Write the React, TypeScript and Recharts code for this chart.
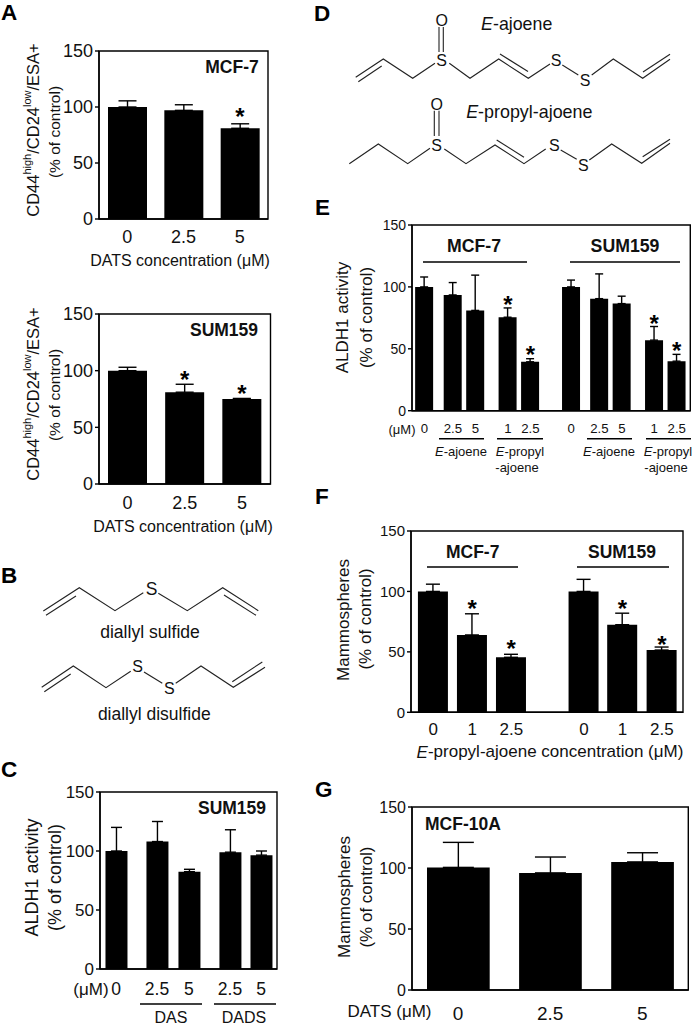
import { ComposedChart, Bar, Line, XAxis, YAxis, ErrorBar, ReferenceArea } from 'recharts';

const FONT = '"Liberation Sans", Arial, sans-serif';
const Y_TICKS = [0, 50, 100, 150];

// panel A, MCF-7
const a1Labels = ['0', '2.5', '5'];
const a1Values = [100, 97, 81];
const a1Errors = [5.5, 5, 4];
const a1Stars = [null, null, 96];

// panel A, SUM159
const a2Labels = ['0', '2.5', '5'];
const a2Values = [100, 81, 75];
const a2Errors = [3, 7, 0.5];
const a2Stars = [null, 97.5, 84.5];

// panel C
const cLabels = ['0', '2.5', '5', '2.5', '5'];
const cValues = [100, 108, 82.5, 99, 96.5];
const cErrors = [20, 17, 2, 19, 3.5];
const cSlots = [0, 1.28, 2.28, 3.56, 4.53];

// panel E
const eLabels = ['0', '2.5', '5', '1', '2.5', '0', '2.5', '5', '1', '2.5'];
const eValues = [100, 93.5, 81, 75.5, 39.5, 100, 90.5, 86.5, 57, 40];
const eErrors = [8, 10, 28.5, 7.5, 2.5, 5.5, 20, 6, 11, 5.5];
const eStars = [null, null, null, 90, 50, null, null, null, 75, 53];
const eSlots = [0, 1.27, 2.27, 3.71, 4.71, 6.53, 7.78, 8.78, 10.22, 11.22];

// panel F
const fLabels = ['0', '1', '2.5', '0', '1', '2.5'];
const fValues = [100, 64, 45.5, 100, 72.5, 51.5];
const fErrors = [6, 17.5, 2.5, 10, 9.5, 2.5];
const fStars = [null, 90.5, 57, null, 90.5, 61];
const fSlots = [0, 1, 2, 3.86, 4.85, 5.86];

// panel G
const gLabels = ['0', '2.5', '5'];
const gValues = [100.5, 96, 105];
const gErrors = [20.5, 13, 7.5];

// chemical structures, drawn as plain lines: [x1 y1 x2 y2 ...]
const BONDS: number[][] = [
    // diallyl sulfide
    [43.3, 611, 79.3, 587.7, 115, 610.7, 143.3, 592.7],
    [158.3, 593.3, 187.3, 610.7, 222.7, 587.7, 258.3, 610.7],
    [46, 615.3, 76, 596],
    [224, 595, 256, 615.3],
    // diallyl disulfide
    [41.7, 687.3, 73.3, 666, 106, 687.7, 130.7, 671.3],
    [144, 672, 162.3, 683.3],
    [175.7, 683.3, 201, 666, 233.3, 687.3, 265, 667.3],
    [232.3, 681.7, 262.3, 662],
    [44.3, 691.7, 70.7, 674],
    // E-ajoene
    [355.7, 77.3, 383.3, 59, 412.7, 78.3, 435, 63.3],
    [439, 27, 439, 52],
    [443.3, 27, 443.3, 52],
    [449.3, 63.3, 470, 78.3, 498.7, 59, 528.3, 78.3, 550, 64],
    [562.3, 65, 578.3, 75],
    [591.7, 75, 613.3, 59, 642.7, 78.3, 670, 59.3],
    [358.3, 81.7, 381.7, 66],
    [500, 54, 528, 71.5],
    [643, 72, 670, 54.3],
    // E-propyl-ajoene
    [349.3, 163.7, 378.3, 144, 407.7, 163.7, 430, 148.3],
    [434.3, 110.7, 434.3, 136],
    [439, 110.7, 439, 136],
    [444.3, 149, 466, 163.7, 495, 145, 524, 163.7, 545.7, 149],
    [560.7, 150, 576.7, 159.3],
    [589.3, 160, 611.7, 144, 641.7, 163.3, 670, 143.3],
    [496.7, 140, 524, 157.3],
    [642.7, 156.7, 670, 139.3],
];

// rules under / over the bar groups: [x1, x2, y]
const RULES: number[][] = [
    [140, 202, 1004], [214, 276, 1004],
    [423, 527, 262], [570, 680, 262],
    [439, 484, 438.7], [497, 543, 438.7], [587, 632, 438.7], [646, 691, 438.7],
    [427, 518, 567], [577, 669, 567],
];

type PanelProps = {
    box: number[]; // plot rectangle: left, right, top, bottom
    labels: string[];
    values: number[];
    errors: number[];
    stars?: (number | null)[];
    slots?: number[];
    domain?: number[];
    barSize: number;
    capWidth: number;
    yFont: number;
    xFont: number;
    xGap: number;
};

const AXIS_W = 50;
const AXIS_H = 36;
const TOP_PAD = 12;

function Panel({ box, labels, values, errors, stars, slots, domain, barSize, capWidth, yFont, xFont, xGap }: PanelProps) {
    const [left, right, top, bottom] = box;
    const xs = slots ?? labels.map((_, i) => i);
    const dom = domain ?? [-0.5, labels.length - 0.5];
    const data = labels.map((label, i) => ({
        slot: xs[i],
        label,
        value: values[i],
        err: [0, errors[i]],
        star: stars ? stars[i] : null,
    }));
    const width = right - left + AXIS_W + 3;
    const height = bottom - top + TOP_PAD + AXIS_H;
    return (
        <div style={{ position: 'absolute', left: left - AXIS_W, top: top - TOP_PAD }}>
            <ComposedChart width={width} height={height} data={data} margin={{ top: TOP_PAD, right: 3, bottom: 0, left: 0 }}>
                <XAxis
                    dataKey="slot"
                    type="number"
                    domain={dom}
                    ticks={xs}
                    interval={0}
                    allowDataOverflow
                    tickFormatter={(v: number) => labels[xs.indexOf(v)]}
                    height={AXIS_H}
                    tickLine={false}
                    tickSize={0}
                    tickMargin={xGap}
                    axisLine={{ stroke: '#000', strokeWidth: 1.4 }}
                    tick={{ fill: '#111', fontSize: xFont, fontFamily: FONT }}
                />
                <YAxis
                    width={AXIS_W}
                    domain={[0, 150]}
                    ticks={Y_TICKS}
                    interval={0}
                    tickSize={4}
                    tickMargin={2}
                    axisLine={{ stroke: '#000', strokeWidth: 1.4 }}
                    tickLine={{ stroke: '#000', strokeWidth: 1.4 }}
                    tick={{ fill: '#111', fontSize: yFont, fontFamily: FONT }}
                />
                <ReferenceArea x1={dom[0]} x2={dom[1]} y1={0} y2={150} fill="none" stroke="#000" strokeWidth={1.4} ifOverflow="visible" />
                <Bar dataKey="value" fill="#000" barSize={barSize} isAnimationActive={false}>
                    {/* the library takes the half length of the cap here */}
                    <ErrorBar dataKey="err" direction="y" width={capWidth / 2} stroke="#000" strokeWidth={1.4} isAnimationActive={false} />
                </Bar>
                {stars && (
                    <Line
                        dataKey="star"
                        stroke="none"
                        dot={false}
                        isAnimationActive={false}
                        label={(p: any) =>
                            p.value == null ? (
                                <g key={p.index} />
                            ) : (
                                <text key={p.index} x={p.x} y={p.y + 14} textAnchor="middle" fontFamily={FONT} fontWeight="bold" fontSize={24} fill="#000">
                                    *
                                </text>
                            )
                        }
                    />
                )}
            </ComposedChart>
        </div>
    );
}

function T({ x, y, size = 16, bold, anchor = 'middle', children }: any) {
    return (
        <text x={x} y={y} fontSize={size} fontWeight={bold ? 'bold' : 'normal'} textAnchor={anchor} dominantBaseline="central" fill="#111" fontFamily={FONT}>
            {children}
        </text>
    );
}

function VT({ x, y, size = 17, children }: any) {
    return (
        <text x={x} y={y} fontSize={size} textAnchor="middle" dominantBaseline="central" fill="#111" fontFamily={FONT} transform={`rotate(-90 ${x} ${y})`}>
            {children}
        </text>
    );
}

function Letter({ x, y, children }: any) {
    return (
        <text x={x} y={y} fontSize={22.5} fontWeight="bold" fill="#000" fontFamily={FONT}>
            {children}
        </text>
    );
}

const CdTitle = ({ x, y }: any) => (
    <VT x={x} y={y} size={16.5}>
        CD44<tspan dy={-6} fontSize={11}>high</tspan>
        <tspan dy={6}>/CD24</tspan>
        <tspan dy={-6} fontSize={11}>low</tspan>
        <tspan dy={6}>/ESA+</tspan>
    </VT>
);

const It = ({ children }: any) => <tspan fontStyle="italic">{children}</tspan>;

export default function App() {
    return (
        <div style={{ position: 'absolute', left: 0, top: 0, width: 693, height: 1027, overflow: 'hidden', background: '#fff' }}>
            <Panel box={[99, 268, 51, 219]} labels={a1Labels} values={a1Values} errors={a1Errors} stars={a1Stars} barSize={39} capWidth={18} yFont={18} xFont={18} xGap={11} />
            <Panel box={[99, 270.5, 314, 484]} labels={a2Labels} values={a2Values} errors={a2Errors} stars={a2Stars} barSize={39} capWidth={18} yFont={18} xFont={18} xGap={12} />
            <Panel box={[100, 277, 792, 969]} labels={cLabels} values={cValues} errors={cErrors} slots={cSlots} domain={[-0.5, 5.03]} barSize={22} capWidth={11} yFont={17} xFont={17.5} xGap={14} />
            <Panel box={[411.7, 690, 225, 410.7]} labels={eLabels} values={eValues} errors={eErrors} stars={eStars} slots={eSlots} domain={[-0.55, 11.82]} barSize={18} capWidth={8} yFont={14} xFont={13.2} xGap={13} />
            <Panel box={[410.7, 682.7, 530.7, 712]} labels={fLabels} values={fValues} errors={fErrors} stars={fStars} slots={fSlots} domain={[-0.57, 6.4]} barSize={30} capWidth={14} yFont={15} xFont={17} xGap={11} />
            <Panel box={[411.7, 688, 807.3, 990.3]} labels={gLabels} values={gValues} errors={gErrors} barSize={62.7} capWidth={31} yFont={16} xFont={19} xGap={17} />

            <svg width={693} height={1027} style={{ position: 'absolute', left: 0, top: 0, pointerEvents: 'none' }}>
                <Letter x={1} y={20}>A</Letter>
                <Letter x={1} y={582.7}>B</Letter>
                <Letter x={1} y={777}>C</Letter>
                <Letter x={314} y={21}>D</Letter>
                <Letter x={315} y={215}>E</Letter>
                <Letter x={315} y={504}>F</Letter>
                <Letter x={315} y={797}>G</Letter>

                {/* panel A */}
                <CdTitle x={33} y={130} />
                <VT x={54} y={132} size={15.5}>(% of control)</VT>
                <T x={232} y={67} size={17.5} bold>MCF-7</T>
                <T x={180} y={260.7} size={16}>DATS concentration (μM)</T>
                <CdTitle x={33} y={394} />
                <VT x={54} y={395} size={15.5}>(% of control)</VT>
                <T x={224} y={330} size={17.5} bold>SUM159</T>
                <T x={183} y={526.7} size={16}>DATS concentration (μM)</T>

                {/* panel B */}
                <T x={151.7} y={589.3} size={17.5}>S</T>
                <T x={150} y={631.7} size={17.6}>diallyl sulfide</T>
                <T x={137.7} y={666.7} size={16}>S</T>
                <T x={169.3} y={688.3} size={16}>S</T>
                <T x={154.3} y={714.3} size={17.5}>diallyl disulfide</T>

                {/* panel C */}
                <VT x={32} y={877.5} size={18}>ALDH1 activity</VT>
                <VT x={55} y={877.5} size={18}>(% of control)</VT>
                <T x={232} y={808} size={17.5} bold>SUM159</T>
                <T x={91} y={989} size={17}>(μM)</T>
                <T x={171} y={1017.5} size={16}>DAS</T>
                <T x={244} y={1017.5} size={16}>DADS</T>

                {/* panel D */}
                <T x={441.7} y={20} size={16}>O</T>
                <T x={441.7} y={60} size={16}>S</T>
                <T x={556} y={60} size={16}>S</T>
                <T x={585} y={80} size={16}>S</T>
                <T x={516.7} y={24} size={17.8}><It>E</It>-ajoene</T>
                <T x={436.7} y={104} size={16}>O</T>
                <T x={436.7} y={145} size={16}>S</T>
                <T x={554.3} y={145} size={16}>S</T>
                <T x={583.3} y={165} size={16}>S</T>
                <T x={529.3} y={112} size={17.9}><It>E</It>-propyl-ajoene</T>

                {/* panel E */}
                <VT x={342.7} y={317.5} size={17}>ALDH1 activity</VT>
                <VT x={366} y={317.5} size={17}>(% of control)</VT>
                <T x={474} y={245.7} size={17.7} bold>MCF-7</T>
                <T x={625} y={245.7} size={17.7} bold>SUM159</T>
                <T x={402} y={429} size={13}>(μM)</T>
                <T x={461} y={451} size={13}><It>E</It>-ajoene</T>
                <T x={520} y={451} size={13}><It>E</It>-propyl</T>
                <T x={517} y={467} size={13}>-ajoene</T>
                <T x={609} y={451} size={13}><It>E</It>-ajoene</T>
                <T x={668} y={451} size={13}><It>E</It>-propyl</T>
                <T x={666} y={467} size={13}>-ajoene</T>

                {/* panel F */}
                <VT x={343.3} y={620} size={17}>Mammospheres</VT>
                <VT x={365} y={619} size={17}>(% of control)</VT>
                <T x={472.7} y={551.7} size={17.5} bold>MCF-7</T>
                <T x={622} y={551.7} size={17.5} bold>SUM159</T>
                <T x={550} y={751.7} size={17}><It>E</It>-propyl-ajoene concentration (μM)</T>

                {/* panel G */}
                <VT x={344} y={897} size={17}>Mammospheres</VT>
                <VT x={366.7} y={897} size={17}>(% of control)</VT>
                <T x={425} y={824} size={17.5} bold anchor="start">MCF-10A</T>
                <T x={389.5} y={1011.7} size={17}>DATS (μM)</T>

                {BONDS.map((b, i) => (
                    <polyline key={i} points={b.join(' ')} fill="none" stroke="#222" strokeWidth={1.1} />
                ))}
                {RULES.map(([x1, x2, y], i) => (
                    <line key={i} x1={x1} x2={x2} y1={y} y2={y} stroke="#000" strokeWidth={1.4} />
                ))}
            </svg>
        </div>
    );
}
